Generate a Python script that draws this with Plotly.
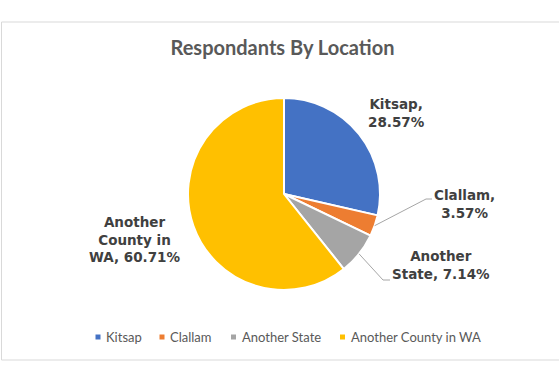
import math
import plotly.graph_objects as go

# ---- data ----
categories = ["Kitsap", "Clallam", "Another State", "Another County in WA"]
counts = [8, 1, 2, 17]
colors = ["#4472C4", "#ED7D31", "#A5A5A5", "#FFC000"]
title_text = "Respondants By Location"

W, H = 559, 378
def fx(x):
    return x / W
def fy(y):
    return 1 - y / H

# pie geometry (pixels)
CX, CY, R = 284, 194, 96

total = sum(counts)
pcts = [c / total * 100 for c in counts]

fig = go.Figure()
fig.add_trace(go.Pie(
    labels=categories,
    values=counts,
    marker=dict(colors=colors, line=dict(color="white", width=2)),
    sort=False,
    direction="clockwise",
    rotation=0,
    textinfo="none",
    hoverinfo="label+percent",
    showlegend=False,
    domain=dict(x=[fx(CX - R), fx(CX + R)], y=[fy(CY + R), fy(CY - R)]),
))

# data label text (wrapping like the original)
wrap = {
    "Kitsap": "Kitsap,<br>{p}",
    "Clallam": "Clallam,<br>{p}",
    "Another State": "Another<br>State, {p}",
    "Another County in WA": "Another<br>County in<br>WA, {p}",
}
label_pos = {
    "Kitsap": (396, 113),
    "Clallam": (464, 204),
    "Another State": (441, 265),
    "Another County in WA": (135, 239),
}
# leader line elbows (only for the small slices)
leader = {
    "Clallam": [(426, 199), (432, 199)],
    "Another State": [(383, 280), (390, 280)],
}

annotations = []
shapes = []
cum = 0.0
for cat, p in zip(categories, pcts):
    mid = (cum + p / 2) / 100 * 2 * math.pi
    cum += p
    txt = wrap[cat].format(p=f"{p:.2f}%")
    lx, ly = label_pos[cat]
    annotations.append(dict(
        text=txt, x=fx(lx), y=fy(ly), xref="paper", yref="paper",
        xanchor="center", yanchor="middle", showarrow=False, align="center",
        font=dict(family="DejaVu Sans", size=13.5, color="#404040", weight="bold"),
    ))
    if cat in leader:
        sx = CX + R * math.sin(mid)
        sy = CY - R * math.cos(mid)
        pts = [(sx, sy)] + leader[cat]
        path = "M " + " L ".join(f"{fx(a)},{fy(b)}" for a, b in pts)
        shapes.append(dict(type="path", path=path, xref="paper", yref="paper",
                           line=dict(color="#A6A6A6", width=1)))

# custom legend (small squares like Excel)
legend_marker_x = [98, 162, 233.5, 342.5]
LEG_Y = 337
for cat, col, mx in zip(categories, colors, legend_marker_x):
    shapes.append(dict(type="rect", xref="paper", yref="paper",
                       x0=fx(mx - 2.5), x1=fx(mx + 2.5), y0=fy(LEG_Y + 2.5), y1=fy(LEG_Y - 2.5),
                       fillcolor=col, line=dict(width=0)))
    annotations.append(dict(
        text=cat, x=fx(mx + 6), y=fy(LEG_Y), xref="paper", yref="paper",
        xanchor="left", yanchor="middle", showarrow=False,
        font=dict(family="Lato", size=13, color="#595959"),
    ))

# chart border
shapes.append(dict(type="rect", xref="paper", yref="paper",
                   x0=fx(1.5), x1=fx(W + 10), y0=fy(360), y1=fy(22),
                   line=dict(color="#D9D9D9", width=1), fillcolor="rgba(0,0,0,0)", layer="below"))

fig.update_layout(
    width=W, height=H,
    margin=dict(l=0, r=0, t=0, b=0),
    paper_bgcolor="white",
    plot_bgcolor="white",
    title=dict(text=title_text, x=fx(282.5), xanchor="center", y=fy(48), yanchor="middle",
               yref="container",
               font=dict(family="Lato", size=20, color="#595959", weight="bold")),
    annotations=annotations,
    shapes=shapes,
    showlegend=False,
)

fig.write_html("out.html", config={"displayModeBar": False},
               post_script="document.body.style.margin='0';document.body.style.overflow='hidden';")
